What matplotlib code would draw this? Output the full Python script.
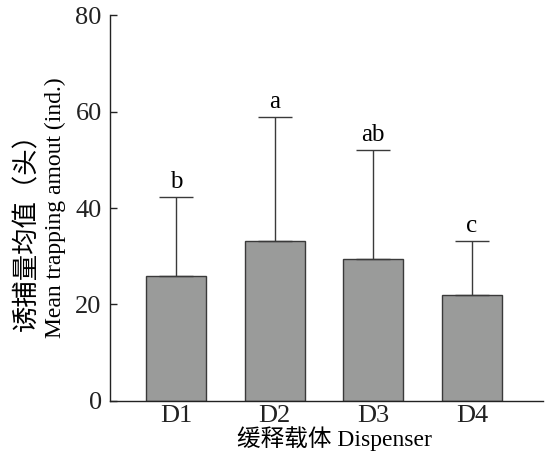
import numpy as np
import matplotlib.pyplot as plt

# Data
dispensers = ['D1', 'D2', 'D3', 'D4']
means = [26.0, 33.2, 29.4, 22.0]
errors = [16.3, 25.7, 22.6, 11.2]
letters = ['b', 'a', 'ab', 'c']

fonts = ['Liberation Serif', 'Noto Sans CJK SC']
plt.rcParams['font.family'] = fonts

fig = plt.figure(figsize=(5.46, 4.55), dpi=100)
ax = fig.add_axes([0.2015, 0.1187, 0.7930, 0.8483])

x = np.arange(len(dispensers))
ax.bar(x, means, width=0.61, color='#9a9b9a', edgecolor='#3a3a3a', linewidth=1.0, zorder=2)
ax.errorbar(x, means, yerr=[np.zeros(len(errors)), errors], fmt='none',
            ecolor='#3a3a3a', elinewidth=1.0, capsize=12, capthick=1.0, zorder=3)

for xi, m, e, lab in zip(x, means, errors, letters):
    ax.annotate(lab, (xi, m + e), xytext=(0, 3), textcoords='offset points',
                ha='center', va='bottom', fontsize=18)

ax.set_xlim(-0.67, 3.72)
ax.set_ylim(0, 80)
ax.set_yticks([0, 20, 40, 60, 80])
ax.set_xticks(x)
ax.set_xticklabels(dispensers)
ax.tick_params(axis='both', direction='in', labelsize=19, length=5, width=1, colors='#222222')
ax.tick_params(axis='x', pad=3)
ax.tick_params(axis='y', pad=6)

for s in ['top', 'right']:
    ax.spines[s].set_visible(False)
for s in ['left', 'bottom']:
    ax.spines[s].set_linewidth(1.0)
    ax.spines[s].set_color('#222222')

# two-line y label: Chinese line then English line
fig.text(0.049, 0.505, '诱捕量均值（头）', rotation=90, ha='center', va='center', fontsize=19)
fig.text(0.1007, 0.543, 'Mean trapping amout (ind.)', rotation=90, ha='center', va='center', fontsize=17)
fig.text(0.612, 0.035, '缓释载体 Dispenser', ha='center', va='center', fontsize=17)

fig.savefig('out.png', dpi=100)
